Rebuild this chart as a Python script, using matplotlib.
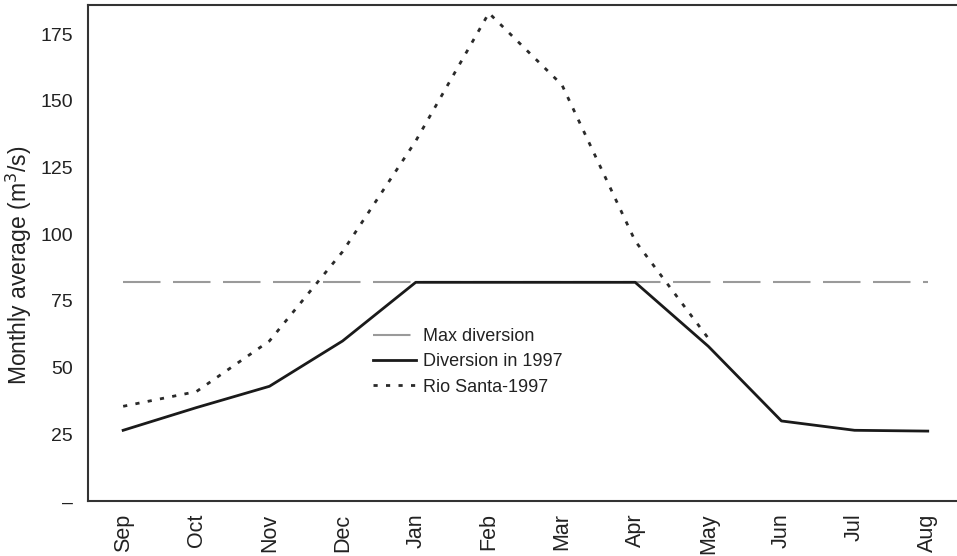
import numpy as np
import matplotlib
matplotlib.use('Agg')
import matplotlib.pyplot as plt

plt.rcParams['font.family'] = ['Liberation Sans', 'DejaVu Sans']

months = ['Sep', 'Oct', 'Nov', 'Dec', 'Jan', 'Feb', 'Mar', 'Apr', 'May', 'Jun', 'Jul', 'Aug']
max_diversion = [82] * 12
diversion_1997 = [26.5, 35, 43, 60, 82, 82, 82, 82, 58, 30, 26.5, 26.2]
rio_santa_months = months[:9]
rio_santa_1997 = [35.5, 41, 60, 93.5, 135, 183, 156, 97.5, 61]
yticks = [0, 25, 50, 75, 100, 125, 150, 175]
ytick_labels = ['\u2013', '25', '50', '75', '100', '125', '150', '175']

x = np.arange(len(months))
xr = np.arange(len(rio_santa_months))

fig = plt.figure(figsize=(9.57, 5.56), dpi=100)
ax = fig.add_axes([0.092, 0.099, 0.908, 0.892])

ax.plot(x, max_diversion, color='#9a9a9a', lw=1.5, dashes=(18, 6), label='Max diversion')
ax.plot(x, diversion_1997, color='#1a1a1a', lw=2.0, label='Diversion in 1997')
ax.plot(xr, rio_santa_1997, color='#2a2a2a', lw=2.0, dashes=(1.5, 3), label='Rio Santa-1997')

ax.set_xlim(-0.48, 11.4)
ax.set_ylim(0, 186)
ax.set_xticks(x)
ax.set_xticklabels(months, rotation=90, fontsize=15.5, color='#222222')
ax.set_yticks(yticks)
ax.set_yticklabels(ytick_labels, fontsize=14, color='#222222')
ax.tick_params(axis='both', length=0)
ax.tick_params(axis='y', pad=11)
ax.tick_params(axis='x', pad=9)
ax.set_ylabel('Monthly average (m$^3$/s)', fontsize=16.5, color='#222222')
ax.yaxis.set_label_coords(-0.062, 0.475)

for side in ['left', 'top', 'bottom']:
    ax.spines[side].set_color('#333333')
    ax.spines[side].set_linewidth(1.5)
ax.spines['right'].set_visible(False)

ax.legend(loc='upper left', bbox_to_anchor=(0.328, 0.348), frameon=False, fontsize=13,
          handlelength=2.4, handletextpad=0.35, labelspacing=0.45, borderpad=0, borderaxespad=0,
          labelcolor='#222222')

fig.savefig('out.png', dpi=100)
